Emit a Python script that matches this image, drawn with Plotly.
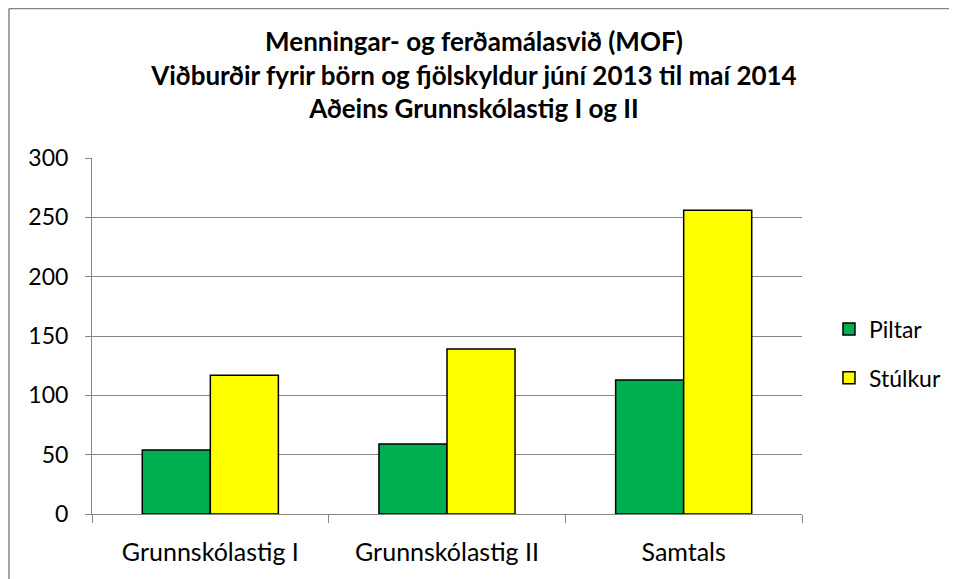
import plotly.graph_objects as go

categories = ["Grunnskólastig I", "Grunnskólastig II", "Samtals"]
piltar = [54, 59, 113]
stulkur = [117, 139, 256]
y_ticks = [0, 50, 100, 150, 200, 250, 300]

FONT = "Lato, 'Open Sans', sans-serif"

fig = go.Figure()
fig.add_trace(go.Bar(name="Piltar", x=categories, y=piltar, legendgroup="a",
                     marker=dict(color="#00B050", line=dict(color="black", width=1.5))))
fig.add_trace(go.Bar(name="Stúlkur", x=categories, y=stulkur, legendgroup="b",
                     marker=dict(color="#FFFF00", line=dict(color="black", width=1.5))))

fig.update_layout(
    width=949, height=571,
    margin=dict(l=84, r=155, t=150, b=65, autoexpand=False),
    paper_bgcolor="white", plot_bgcolor="white",
    barmode="group", bargap=0.425, bargroupgap=0,
    font=dict(family=FONT, size=24, color="black"),
    title=dict(
        text="<b>Menningar- og ferðamálasvið (MOF)<br>Viðburðir fyrir börn og fjölskyldur júní 2013 til maí 2014<br>Aðeins Grunnskólastig I og II</b>",
        x=0.491, xref="container", xanchor="center", y=0.925, yanchor="middle",
        font=dict(family=FONT, size=26, color="black"),
    ),
    legend=dict(x=1.038, y=0.58, xanchor="left", yanchor="top",
                traceorder="grouped", tracegroupgap=16,
                font=dict(family=FONT, size=23, color="black"),
                itemwidth=30),
    showlegend=True,
)
fig.update_xaxes(showline=True, linecolor="#868686", linewidth=1,
                 ticks="outside", tickson="boundaries", ticklen=8, tickcolor="#868686",
                 ticklabelstandoff=16, automargin=False,
                 tickfont=dict(family=FONT, size=25))
fig.update_yaxes(range=[0, 300], tickvals=y_ticks, showgrid=True, gridcolor="#868686", gridwidth=1,
                 showline=True, linecolor="#868686", linewidth=1,
                 ticks="outside", ticklen=6, tickcolor="#868686",
                 ticklabelstandoff=12, automargin=False,
                 tickfont=dict(family=FONT, size=23), zeroline=False)

# chart-area border (left and top edges visible in the reference)
fig.add_shape(type="line", xref="paper", yref="paper",
              x0=-0.1169, x1=-0.1169, y0=-0.3, y1=1.4199,
              line=dict(color="#868686", width=1.5), layer="below")
fig.add_shape(type="line", xref="paper", yref="paper",
              x0=-0.1169, x1=1.3, y0=1.4199, y1=1.4199,
              line=dict(color="#868686", width=1.5), layer="below")

fig.write_html("out.html")
